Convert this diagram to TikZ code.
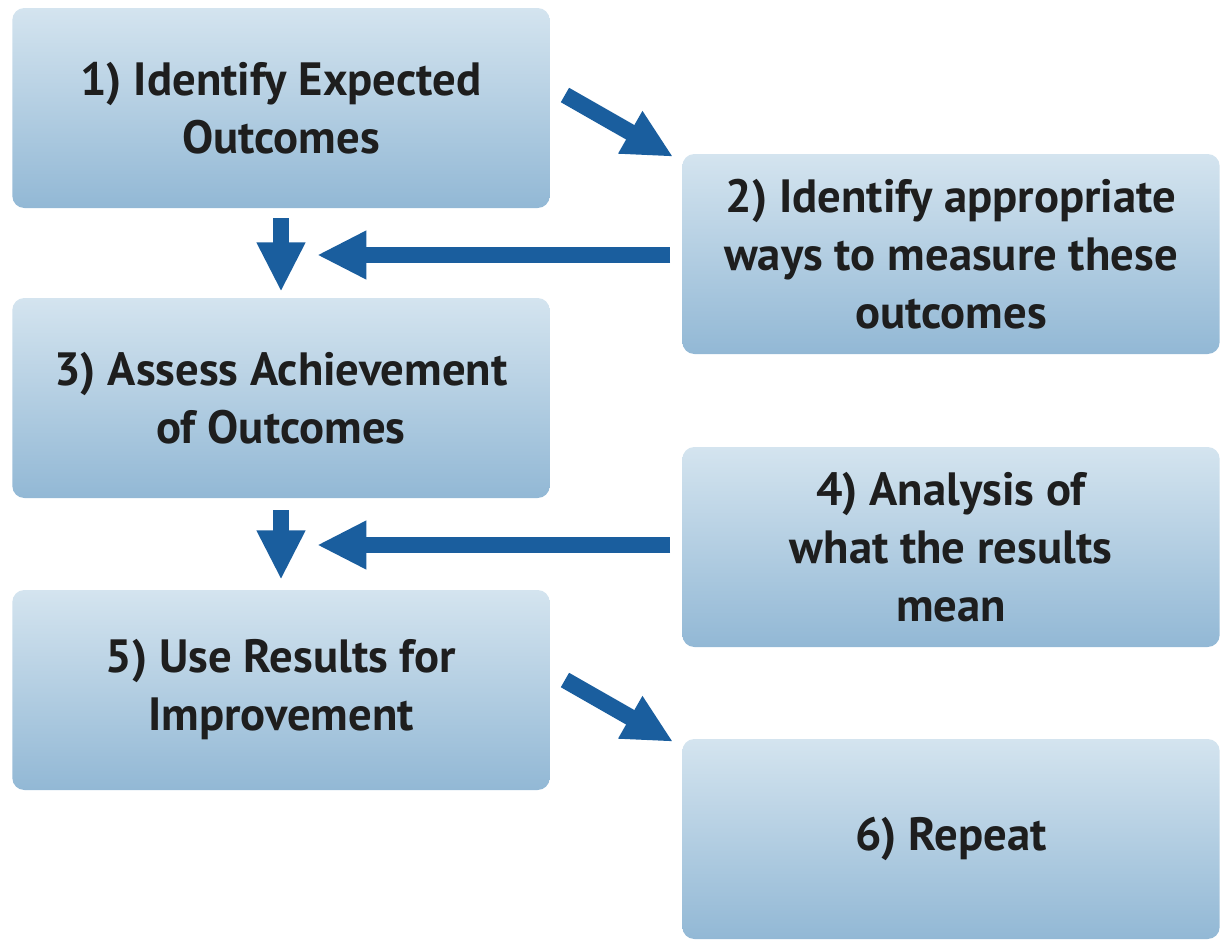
\documentclass[tikz,border=0pt]{standalone}
\usepackage{fontspec}
\setmainfont{PT Sans}
\usetikzlibrary{arrows.meta,calc}
\definecolor{boxtop}{HTML}{D4E4EF}
\definecolor{boxbot}{HTML}{92B8D5}
\definecolor{arrowblue}{HTML}{1A5E9E}
\definecolor{txt}{HTML}{1E1E1E}
\tikzset{
  stepbox/.style={rectangle, rounded corners=9pt, top color=boxtop, bottom color=boxbot,
    minimum width=403pt, minimum height=150pt, inner sep=0pt, align=center,
    font=\fontsize{35}{43.5}\selectfont\bfseries, text=txt},
  bigarrow/.style={draw=arrowblue, line width=12.5pt, -{Triangle[width=34pt,length=37pt]}, arrowblue}
}
\begin{document}
\begin{tikzpicture}[x=0.75pt,y=-0.75pt]
\useasboundingbox (0,0) rectangle (1221,946);
\node[stepbox] (b1) at (281,108) {1) Identify Expected\\Outcomes};
\node[stepbox] (b2) at (951,254) {2) Identify appropriate\\ways to measure these\\outcomes};
\node[stepbox] (b3) at (281,398) {3) Assess Achievement\\of Outcomes};
\node[stepbox] (b4) at (951,547) {4) Analysis of\\what the results\\mean};
\node[stepbox] (b5) at (281,690) {5) Use Results for\\Improvement};
\node[stepbox] (b6) at (951,839) {6) Repeat};
\coordinate (d1s) at ($(b1.south)+(0,10)$);
\coordinate (d1e) at ($(b3.north)+(0,-6)$);
\coordinate (d2s) at ($(b3.south)+(0,12)$);
\coordinate (d2e) at ($(b5.north)+(0,-10)$);
\coordinate (l1s) at ($(b2.west)+(-12,1)$);
\coordinate (l1e) at ($(b2.west)+(-365,1)$);
\coordinate (l2s) at ($(b4.west)+(-12,-2)$);
\coordinate (l2e) at ($(b4.west)+(-365,-2)$);
\coordinate (g1s) at ($(b1.east)+(15,-13)$);
\coordinate (g1e) at ($(b2.north west)+(-9,3)$);
\coordinate (g2s) at ($(b5.east)+(15,-10)$);
\coordinate (g2e) at ($(b6.north west)+(-9,3)$);
\draw[bigarrow] (d1s) -- (d1e);
\draw[bigarrow] (d2s) -- (d2e);
\draw[bigarrow] (l1s) -- (l1e);
\draw[bigarrow] (l2s) -- (l2e);
\draw[bigarrow] (g1s) -- (g1e);
\draw[bigarrow] (g2s) -- (g2e);
\end{tikzpicture}
\end{document}
